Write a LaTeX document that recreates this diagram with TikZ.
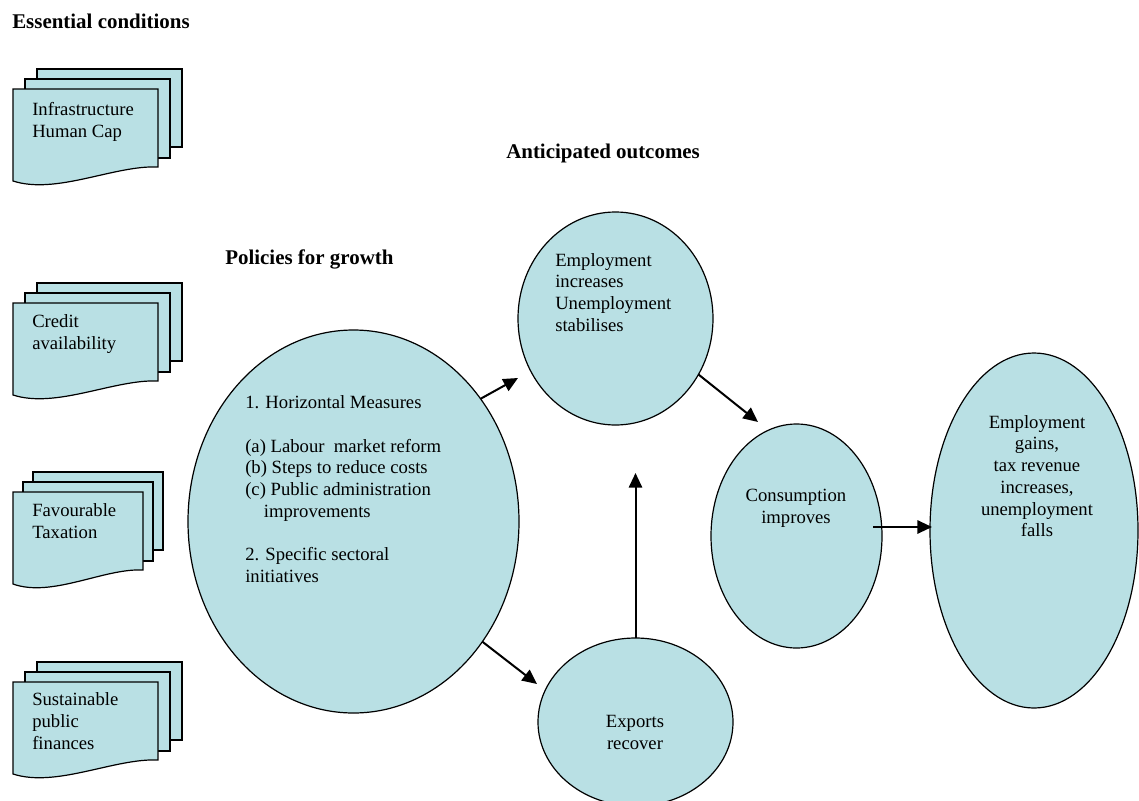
\documentclass[tikz,border=0pt]{standalone}
\usepackage{fontspec}
\setmainfont{Liberation Serif}
\usetikzlibrary{arrows.meta,shapes.geometric}
\definecolor{fillc}{RGB}{185,224,228}
\newcommand\docstack[4]{%
  \draw[docline] ({#1+2*#4},{#2-20}) rectangle ({#1+#3+2*#4},{#2+58});
  \draw[docline] ({#1+#4},{#2-10}) rectangle ({#1+#3+#4},{#2+69});
  \draw[docline] (#1,#2) -- ({#1+#3},#2) -- ({#1+#3},{#2+78})
     .. controls ({#1+0.7*#3},{#2+76}) and ({#1+0.3*#3},{#2+106}) .. (#1,{#2+92}) -- cycle;
}
\begin{document}
\begin{tikzpicture}[x=0.75pt,y=-0.75pt,
  bubble/.style={ellipse, draw, fill=fillc, line width=0.9pt, inner sep=0pt, outer sep=0pt},
  docline/.style={draw, fill=fillc, line width=0.9pt, line join=miter},
  txt/.style={font=\fontsize{14pt}{16.3pt}\selectfont, inner sep=0pt, align=left, anchor=north west},
  ctxt/.style={font=\fontsize{14pt}{16.3pt}\selectfont, inner sep=0pt, align=center, anchor=north},
  ttl/.style={font=\fontsize{15.7pt}{18pt}\selectfont\bfseries, inner sep=0pt, anchor=base west},
  arr/.style={line width=1.5pt, -{Triangle[length=11pt,width=10pt]}}]
\useasboundingbox (0,0) rectangle (1139,800);

% titles
\node[ttl] (hEss) at (12,28.5) {Essential conditions};
\node[ttl] (hPol) at (225,264) {Policies for growth};
\node[ttl] (hOut) at (506,158) {Anticipated outcomes};

% document stacks
\docstack{13}{89}{145}{12}
\docstack{13}{303}{145}{12}
\docstack{13}{492}{130}{10}
\docstack{13}{682}{145}{12}
\node[txt] (tinfra) at (32,102.5) {Infrastructure\\Human Cap};
\node[txt] (tcredit) at (32,314.5) {Credit\\availability};
\node[txt] (tfav) at (32,503.5) {Favourable\\Taxation};
\node[txt] (tsust) at (32,692.5) {Sustainable\\public\\finances};

% ellipses
\node[bubble, minimum width=248.25pt, minimum height=287.25pt] (pol) at (353.5,521.5) {};
\node[bubble, minimum width=146.25pt, minimum height=159.75pt] (emp) at (615.5,318.5) {};
\node[bubble, minimum width=128.25pt, minimum height=168pt] (cons) at (796.5,536) {};
\node[bubble, minimum width=146.25pt, minimum height=126pt] (exp) at (635.5,722) {};
\node[bubble, minimum width=156pt, minimum height=266.25pt] (gains) at (1034,530.5) {};

% ellipse texts
\node[txt] (tpol) at (245,395.5) {1. Horizontal Measures\\[16.3pt]
(a) Labour\ \ market reform\\
(b) Steps to reduce costs\\
(c) Public administration\\
\hspace*{14pt}improvements\\[16.3pt]
2. Specific sectoral\\
initiatives};
\node[txt] (temp) at (555,253) {Employment\\increases\\Unemployment\\stabilises};
\node[ctxt] (tcons) at (796,489) {Consumption\\improves};
\node[ctxt] (texp) at (635,715.5) {Exports\\recover};
\node[ctxt] (tgains) at (1037,415) {Employment\\gains,\\tax revenue\\increases,\\unemployment\\falls};

% arrows
\coordinate (tipEmp) at (518,378);
\coordinate (tipExp) at (537,684);
\coordinate (tipCons) at (758,422);
\coordinate (tipGains) at (932,527);
\coordinate (tipUp) at (635.5,473);
\draw[arr] (pol.44) -- (tipEmp);
\draw[arr] (pol.-43) -- (tipExp);
\draw[arr] (emp.-34) -- (tipCons);
\draw[arr, shorten <=-6.75pt] (cons.east |- tipGains) -- (tipGains);
\draw[arr] (exp.north) -- (tipUp);
\end{tikzpicture}
\end{document}
